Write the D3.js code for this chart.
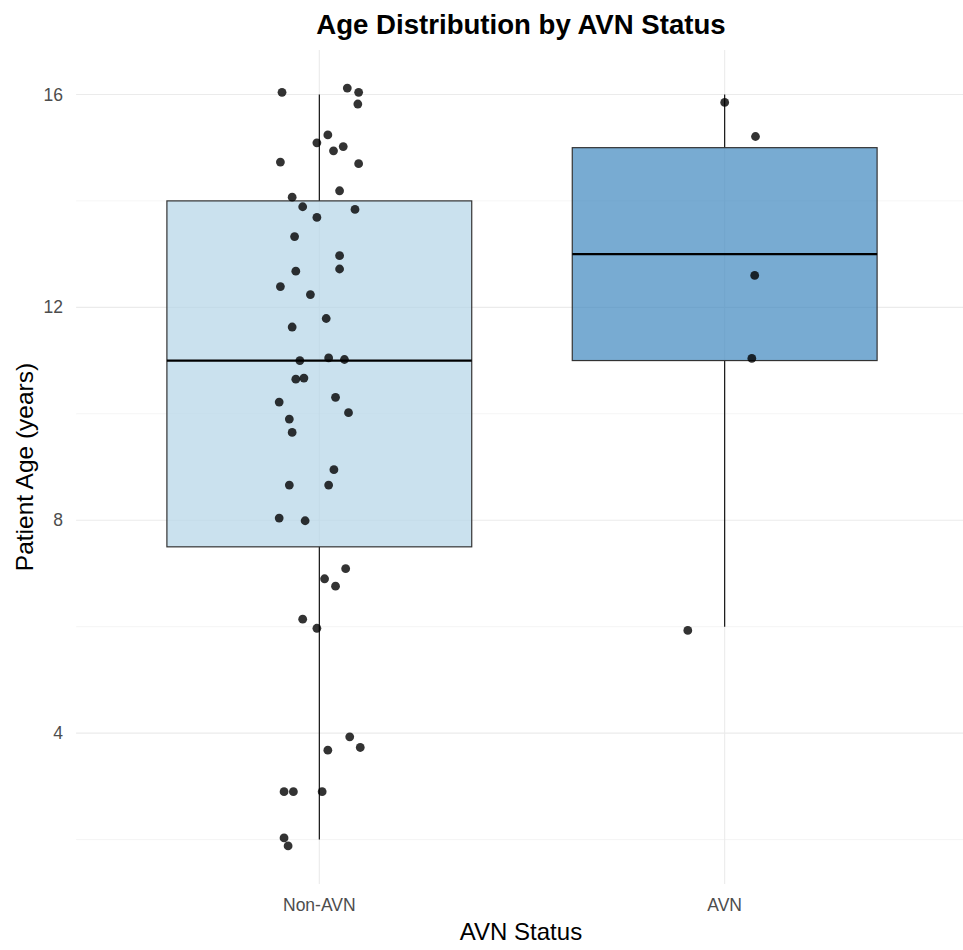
<!DOCTYPE html>
<html>
<head>
<meta charset="utf-8">
<script src="https://cdn.jsdelivr.net/npm/d3@7"></script>
<style>
  body { margin: 0; background: #fff; }
  text { font-family: "Liberation Sans", Arial, sans-serif; }
</style>
</head>
<body>
<script>
// categories and box statistics (min whisker, Q1, median, Q3, max whisker)
var categories = ["Non-AVN", "AVN"];
var whiskerLow = [2, 6];
var q1 = [7.5, 11];
var median = [11, 13];
var q3 = [14, 15];
var whiskerHigh = [16, 16];
var boxColors = ["#b3d4e7", "#3f88bf"];

// jittered points: x position (category 1 or 2 plus jitter), age
var pointX = [
  0.908,1.069,1.097,1.095,1.021,0.994,1.059,1.035,0.904,1.097,1.050,0.933,0.959,
  1.088,0.994,0.939,1.050,1.050,0.942,0.904,0.978,1.017,0.933,0.952,1.023,1.062,
  0.942,0.962,0.901,1.040,1.072,0.926,0.933,1.036,0.926,1.023,0.901,0.965,1.065,
  1.013,1.040,0.959,0.994,1.075,1.021,1.101,0.913,0.936,1.007,0.913,0.923,
  2.000,2.076,2.074,2.067,1.909
];
var pointAge = [
  16.04,16.12,16.04,15.82,15.24,15.09,15.02,14.94,14.73,14.70,14.19,14.07,13.89,
  13.84,13.69,13.33,12.97,12.72,12.68,12.39,12.24,11.79,11.63,11.00,11.05,11.02,
  10.65,10.67,10.22,10.31,10.02,9.90,9.65,8.95,8.66,8.66,8.04,7.99,7.09,
  6.90,6.76,6.14,5.97,3.93,3.68,3.73,2.90,2.90,2.90,2.03,1.88,
  15.85,15.21,12.60,11.04,5.93
];
var majorTicks = [4, 8, 12, 16];
var minorTicks = [2, 6, 10, 14];

var width = 963, height = 950;
var margin = { top: 50, right: -4.9, bottom: 66, left: 76.1 };

var svg = d3.select("body").append("svg")
  .attr("width", width)
  .attr("height", height);

// scales: categories sit at 1 and 2, with 0.6 of padding each side
var x = d3.scaleLinear().domain([0.4, 2.6]).range([margin.left, width - margin.right]);
var y = d3.scaleLinear().domain([1.165, 16.835]).range([height - margin.bottom, margin.top]);

svg.append("clipPath").attr("id", "panel")
  .append("rect")
  .attr("x", margin.left).attr("y", margin.top)
  .attr("width", width - margin.left).attr("height", height - margin.bottom - margin.top);

var panel = svg.append("g").attr("clip-path", "url(#panel)");

// grid lines
panel.selectAll(".minor").data(minorTicks).enter().append("line")
  .attr("x1", margin.left).attr("x2", width)
  .attr("y1", d => y(d)).attr("y2", d => y(d))
  .attr("stroke", "#f2f2f2").attr("stroke-width", 0.8);

panel.selectAll(".major").data(majorTicks).enter().append("line")
  .attr("x1", margin.left).attr("x2", width)
  .attr("y1", d => y(d)).attr("y2", d => y(d))
  .attr("stroke", "#ebebeb").attr("stroke-width", 1.1);

panel.selectAll(".vgrid").data(categories).enter().append("line")
  .attr("x1", (d, i) => x(i + 1)).attr("x2", (d, i) => x(i + 1))
  .attr("y1", margin.top).attr("y2", height - margin.bottom)
  .attr("stroke", "#ebebeb").attr("stroke-width", 1.1);

// boxes
var halfBox = 0.376;
var boxes = panel.selectAll(".box").data(categories).enter().append("g");

boxes.append("line")
  .attr("x1", (d, i) => x(i + 1)).attr("x2", (d, i) => x(i + 1))
  .attr("y1", (d, i) => y(q3[i])).attr("y2", (d, i) => y(whiskerHigh[i]))
  .attr("stroke", "#000").attr("stroke-width", 1.1);

boxes.append("line")
  .attr("x1", (d, i) => x(i + 1)).attr("x2", (d, i) => x(i + 1))
  .attr("y1", (d, i) => y(q1[i])).attr("y2", (d, i) => y(whiskerLow[i]))
  .attr("stroke", "#000").attr("stroke-width", 1.1);

boxes.append("rect")
  .attr("x", (d, i) => x(i + 1 - halfBox))
  .attr("width", (d, i) => x(i + 1 + halfBox) - x(i + 1 - halfBox))
  .attr("y", (d, i) => y(q3[i]))
  .attr("height", (d, i) => y(q1[i]) - y(q3[i]))
  .attr("fill", (d, i) => boxColors[i])
  .attr("fill-opacity", 0.7)
  .attr("stroke", "#333")
  .attr("stroke-width", 1.2);

boxes.append("line")
  .attr("x1", (d, i) => x(i + 1 - halfBox)).attr("x2", (d, i) => x(i + 1 + halfBox))
  .attr("y1", (d, i) => y(median[i])).attr("y2", (d, i) => y(median[i]))
  .attr("stroke", "#000").attr("stroke-width", 2.3);

// jittered points
panel.selectAll(".dot").data(pointAge).enter().append("circle")
  .attr("cx", (d, i) => x(pointX[i]))
  .attr("cy", d => y(d))
  .attr("r", 4.4)
  .attr("fill", "#000")
  .attr("fill-opacity", 0.8);

// y tick labels
svg.selectAll(".ylab").data(majorTicks).enter().append("text")
  .attr("x", 63)
  .attr("y", d => y(d))
  .attr("dy", "0.35em")
  .attr("text-anchor", "end")
  .attr("fill", "#4d4d4d")
  .style("font-size", "17.5px")
  .text(d => d);

// x tick labels
svg.selectAll(".xlab").data(categories).enter().append("text")
  .attr("x", (d, i) => x(i + 1))
  .attr("y", 911)
  .attr("text-anchor", "middle")
  .attr("fill", "#4d4d4d")
  .style("font-size", "17.5px")
  .text(d => d);

// titles
svg.append("text")
  .attr("x", 521)
  .attr("y", 34)
  .attr("text-anchor", "middle")
  .style("font-size", "27.6px")
  .style("font-weight", "bold")
  .text("Age Distribution by AVN Status");

svg.append("text")
  .attr("x", 521)
  .attr("y", 940)
  .attr("text-anchor", "middle")
  .style("font-size", "24px")
  .text("AVN Status");

svg.append("text")
  .attr("transform", "translate(33," + (height - margin.bottom + margin.top) / 2 + ") rotate(-90)")
  .attr("text-anchor", "middle")
  .style("font-size", "24.5px")
  .text("Patient Age (years)");
</script>
</body>
</html>
